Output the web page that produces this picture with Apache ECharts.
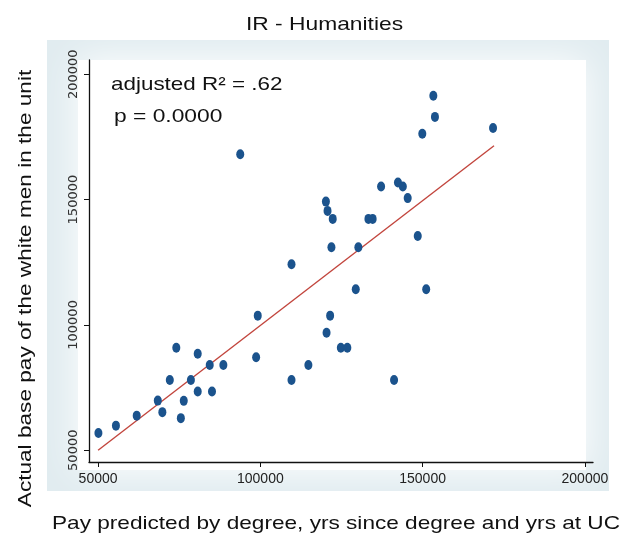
<!DOCTYPE html>
<html>
<head>
<meta charset="utf-8">
<script src="https://cdn.jsdelivr.net/npm/echarts@6/dist/echarts.min.js"></script>
<style>html,body{margin:0;padding:0;background:#fff}#c{width:629px;height:537px}</style>
</head>
<body>
<div id="c"></div>
<script>
// Data
const predictedPay = [50100,55500,61900,68400,69800,72100,74100,75500,76400,78600,80700,80700,84400,85100,88600,98700,99200,109600,109600,114800,120400,121500,124800,126800,129400,151100,141200,153300,153800,149900,171700,137200,142400,143900,145400,120200,120700,122300,133300,134600,121900,130200,148500,93800];
const actualPay = [56900,59800,63800,69800,65200,78000,90900,62800,69700,78000,88500,73400,84000,73400,84000,87100,103700,124200,78000,84000,96900,103700,90900,90900,114200,114200,78000,191400,183000,176300,178600,155200,156800,155200,150600,149200,145500,142300,142300,142300,131000,131000,135500,168100];
const fitX = [50000, 172000];
const fitY = [50000, 171500];
const tickValues = [50000, 100000, 150000, 200000];
const titleText = 'IR - Humanities';
const xName = 'Pay predicted by degree, yrs since degree and yrs at UC';
const yName = 'Actual base pay of the white men in the unit';
const annot1 = 'adjusted R\u00B2 = .62';
const annot2 = 'p = 0.0000';

const points = predictedPay.map((x, i) => [x, actualPay[i]]);
const fitLine = fitX.map((x, i) => [x, fitY[i]]);

const chart = echarts.init(document.getElementById('c'), null, {renderer: 'canvas'});
const font = '"Liberation Sans", Arial, sans-serif';
chart.setOption({
  animation: false,
  backgroundColor: '#ffffff',
  graphic: [
    {type: 'rect', z: -20, silent: true, shape: {x: 47, y: 40, width: 562, height: 451}, style: {fill: '#e1ecf0'}},
    {type: 'rect', z: -19, silent: true, shape: {x: 78, y: 60, width: 508, height: 410},
      style: {fill: '#ffffff', shadowBlur: 36, shadowColor: '#ffffff'}},
    {type: 'text', z: 10, x: 324.5, y: 25, scaleX: 1.2,
      style: {text: titleText, font: '19px ' + font, fill: '#111', align: 'center', verticalAlign: 'middle'}},
    {type: 'text', z: 10, x: 111, y: 84.5, scaleX: 1.18,
      style: {text: annot1, font: '19px ' + font, fill: '#111', align: 'left', verticalAlign: 'middle'}},
    {type: 'text', z: 10, x: 114, y: 117, scaleX: 1.2,
      style: {text: annot2, font: '19px ' + font, fill: '#111', align: 'left', verticalAlign: 'middle'}},
    {type: 'text', z: 10, x: 26, y: 288.5, rotation: Math.PI / 2, scaleX: 1.19,
      style: {text: yName, font: '19px ' + font, fill: '#111', align: 'center', verticalAlign: 'middle'}},
    {type: 'text', z: 10, x: 336, y: 523.5, scaleX: 1.19,
      style: {text: xName, font: '19px ' + font, fill: '#111', align: 'center', verticalAlign: 'middle'}}
  ],
  grid: {left: 89, right: 36, top: 60, bottom: 75, containLabel: false},
  xAxis: {
    type: 'value', min: 47200, max: 202500,
    axisLine: {show: true, onZero: false, lineStyle: {color: '#111', width: 1.3}},
    axisTick: {show: true, length: 5, customValues: tickValues, lineStyle: {color: '#111'}},
    axisLabel: {customValues: tickValues, formatter: v => String(v),
      fontFamily: font, fontSize: 14, color: '#222', margin: 10},
    splitLine: {show: false}
  },
  yAxis: {
    type: 'value', min: 45300, max: 205700,
    axisLine: {show: true, onZero: false, lineStyle: {color: '#111', width: 1.3}},
    axisTick: {show: true, length: 5, customValues: tickValues, lineStyle: {color: '#111'}},
    axisLabel: {customValues: tickValues, formatter: v => String(v), rotate: 90,
      fontFamily: '"DejaVu Sans", sans-serif', fontSize: 13, color: '#333', margin: 9},
    splitLine: {show: false}
  },
  series: [
    {
      type: 'line', data: fitLine, showSymbol: false, symbol: 'none',
      lineStyle: {color: '#c2453d', width: 1.4}, z: 2, silent: true
    },
    {
      type: 'scatter', data: points,
      symbol: 'path://M0,5 A5,5 0 1,1 10,5 A5,5 0 1,1 0,5 Z',
      symbolSize: [8, 10],
      itemStyle: {color: '#1b538d', opacity: 1}, z: 3
    }
  ]
});
</script>
</body>
</html>
